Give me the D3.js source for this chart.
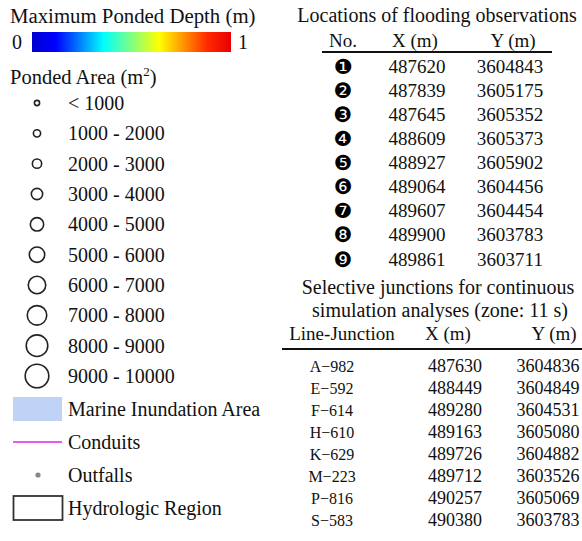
<!DOCTYPE html>
<html><head><meta charset="utf-8">
<script src="https://cdn.jsdelivr.net/npm/d3@7/dist/d3.min.js"></script>
<style>body{margin:0;background:#fff}svg{display:block}</style>
</head><body><svg id="c" width="582" height="541"></svg>
<script>
// ---- data ----
const depthDomain = [0, 1];
const depthTickLabels = ["0", "1"];
const jetStops = [0, 0.12, 0.36, 0.5, 0.64, 0.88, 1];
const jetColors = ["#0000d0", "#0000ff", "#00ffff", "#80ff80", "#ffff00", "#ff2a00", "#e80000"];
const areaClasses = ["< 1000", "1000 - 2000", "2000 - 3000", "3000 - 4000", "4000 - 5000",
  "5000 - 6000", "6000 - 7000", "7000 - 8000", "8000 - 9000", "9000 - 10000"];
const otherLegend = ["Marine Inundation Area", "Conduits", "Outfalls", "Hydrologic Region"];
const obsNo = ["\u2776", "\u2777", "\u2778", "\u2779", "\u277A", "\u277B", "\u277C", "\u277D", "\u277E"];
const obsX = [487620, 487839, 487645, 488609, 488927, 489064, 489607, 489900, 489861];
const obsY = [3604843, 3605175, 3605352, 3605373, 3605902, 3604456, 3604454, 3603783, 3603711];
const juncNames = ["A\u2212982", "E\u2212592", "F\u2212614", "H\u2212610", "K\u2212629", "M\u2212223", "P\u2212816", "S\u2212583"];
const juncX = [487630, 488449, 489280, 489163, 489726, 489712, 490257, 490380];
const juncY = [3604836, 3604849, 3604531, 3605080, 3604882, 3603526, 3605069, 3603783];

// ---- drawing ----
const svg = d3.select("#c");
const SERIF = "Liberation Serif, Times New Roman, serif";
const txt = (g, x, y, s, size, anchor) => g.append("text").attr("x", x).attr("y", y)
  .style("font-family", SERIF).attr("font-size", size).attr("fill", "#111")
  .attr("text-anchor", anchor || "start").text(s);

// Left: colour bar
txt(svg, 10, 23, "Maximum Ponded Depth (m)", 20.8);
const defs = svg.append("defs");
const grad = defs.append("linearGradient").attr("id", "jet");
grad.selectAll("stop").data(jetStops).join("stop")
  .attr("offset", d => d * 100 + "%").attr("stop-color", (d, i) => jetColors[i]);
const cx = d3.scaleLinear().domain(depthDomain).range([32, 231]);
svg.append("rect").attr("x", cx(0)).attr("y", 32).attr("width", cx(1) - cx(0)).attr("height", 20)
  .attr("fill", "url(#jet)");
txt(svg, cx(0) - 15, 49, depthTickLabels[0], 20, "middle");
txt(svg, cx(1) + 12, 49, depthTickLabels[1], 20, "middle");

// Ponded area
const pa = txt(svg, 10, 84, "Ponded Area (m", 20.5);
pa.append("tspan").attr("font-size", 13).attr("dy", -8).text("2");
pa.append("tspan").attr("dy", 8).text(")");

const ya = d3.scalePoint().domain(areaClasses).range([103, 376]);
const rScale = d3.scaleLinear().domain([0, areaClasses.length - 1]).range([2.6, 11.8]);
const rows = svg.append("g").selectAll("g").data(areaClasses).join("g");
rows.append("circle").attr("cx", 37).attr("cy", d => ya(d)).attr("r", (d, i) => rScale(i))
  .attr("fill", "none").attr("stroke", "#222").attr("stroke-width", 1.6);
rows.append("text").attr("x", 68).attr("y", d => ya(d) + 7).style("font-family", SERIF)
  .attr("font-size", 20).attr("fill", "#111").text(d => d);

const yo = d3.scalePoint().domain(otherLegend).range([409, 508]);
svg.append("rect").attr("x", 13).attr("y", yo(otherLegend[0]) - 12).attr("width", 49).attr("height", 24)
  .attr("fill", "#bfd3f7");
svg.append("line").attr("x1", 13).attr("x2", 62).attr("y1", yo(otherLegend[1])).attr("y2", yo(otherLegend[1]))
  .attr("stroke", "#e020f0").attr("stroke-width", 1.5);
svg.append("circle").attr("cx", 38).attr("cy", yo(otherLegend[2])).attr("r", 2.6).attr("fill", "#888");
svg.append("rect").attr("x", 13.5).attr("y", yo(otherLegend[3]) - 12).attr("width", 49).attr("height", 24)
  .attr("fill", "none").attr("stroke", "#333").attr("stroke-width", 1.8);
svg.append("g").selectAll("text").data(otherLegend).join("text").attr("x", 68).attr("y", d => yo(d) + 7)
  .style("font-family", SERIF).attr("font-size", 20).attr("fill", "#111").text(d => d);

// Right: table 1
txt(svg, 437, 22, "Locations of flooding observations", 20, "middle");
txt(svg, 343, 47, "No.", 19, "middle");
txt(svg, 415, 47, "X (m)", 19, "middle");
txt(svg, 513, 47, "Y (m)", 19, "middle");
svg.append("line").attr("x1", 322).attr("x2", 552).attr("y1", 52).attr("y2", 52).attr("stroke", "#111").attr("stroke-width", 2);
const y1 = d3.scalePoint().domain(d3.range(obsNo.length)).range([66, 259]);
const t1 = svg.append("g").selectAll("g").data(obsNo).join("g");
t1.append("text").attr("x", 343).attr("y", (d, i) => y1(i) + 7.5).attr("text-anchor", "middle")
  .style("font-family", "DejaVu Sans").attr("font-size", 21).attr("fill", "#000").text(d => d);
t1.append("text").attr("x", 417).attr("y", (d, i) => y1(i) + 6.5).attr("text-anchor", "middle")
  .style("font-family", SERIF).attr("font-size", 19).attr("fill", "#111").text((d, i) => obsX[i]);
t1.append("text").attr("x", 510).attr("y", (d, i) => y1(i) + 6.5).attr("text-anchor", "middle")
  .style("font-family", SERIF).attr("font-size", 19).attr("fill", "#111").text((d, i) => obsY[i]);

// Right: table 2
txt(svg, 438, 294, "Selective junctions for continuous", 20, "middle");
txt(svg, 440, 317, "simulation analyses (zone: 11 s)", 20, "middle");
txt(svg, 342, 340, "Line-Junction", 19, "middle");
txt(svg, 448, 340, "X (m)", 19, "middle");
txt(svg, 554, 340, "Y (m)", 19, "middle");
svg.append("line").attr("x1", 282).attr("x2", 582).attr("y1", 349).attr("y2", 349).attr("stroke", "#111").attr("stroke-width", 2);
const y2 = d3.scalePoint().domain(d3.range(juncNames.length)).range([366, 520]);
const t2 = svg.append("g").selectAll("g").data(juncNames).join("g");
t2.append("text").attr("x", 332).attr("y", (d, i) => y2(i) + 5.5).attr("text-anchor", "middle")
  .style("font-family", SERIF).attr("font-size", 16).attr("fill", "#111").text(d => d);
t2.append("text").attr("x", 455).attr("y", (d, i) => y2(i) + 6).attr("text-anchor", "middle")
  .style("font-family", SERIF).attr("font-size", 18).attr("fill", "#111").text((d, i) => juncX[i]);
t2.append("text").attr("x", 548).attr("y", (d, i) => y2(i) + 6).attr("text-anchor", "middle")
  .style("font-family", SERIF).attr("font-size", 18).attr("fill", "#111").text((d, i) => juncY[i]);
</script></body></html>
